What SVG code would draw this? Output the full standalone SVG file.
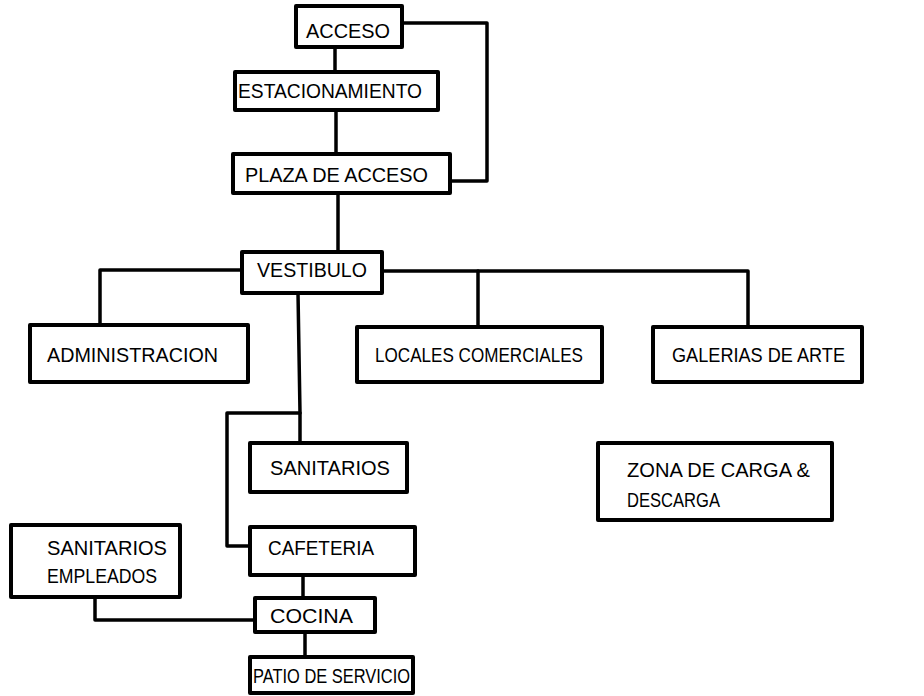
<svg xmlns="http://www.w3.org/2000/svg" width="924" height="696" viewBox="0 0 924 696">
<style>
.box{fill:#fff;stroke:#000;stroke-width:4;stroke-linejoin:round}
.ln{fill:none;stroke:#000;stroke-width:3.5;stroke-linejoin:round;stroke-linecap:round}
text{font-family:"Liberation Sans",Arial,sans-serif;font-size:20px;fill:#000}
</style>
<rect width="924" height="696" fill="#fff"/>
<g id="connectors">
<path class="ln" d="M402 23 H487 V181 H450"/>
<path class="ln" d="M335 47 V72"/>
<path class="ln" d="M336 110 V154"/>
<path class="ln" d="M338 193 V252"/>
<path class="ln" d="M242 270 H100 V325"/>
<path class="ln" d="M382 271 H748 V327"/>
<path class="ln" d="M478 271 V327"/>
<path class="ln" d="M298 293 L300 413 V443"/>
<path class="ln" d="M300 413 H227 V546 H250"/>
<path class="ln" d="M303 575 V598"/>
<path class="ln" d="M95 597 V620 H255"/>
<path class="ln" d="M305 632 V657"/>
</g>
<g id="acceso"><rect class="box" x="296" y="6" width="106" height="41"/><text x="306" y="38" textLength="84" lengthAdjust="spacingAndGlyphs">ACCESO</text></g>
<g id="estacionamiento"><rect class="box" x="235" y="72" width="203" height="38"/><text x="238" y="98" textLength="184" lengthAdjust="spacingAndGlyphs">ESTACIONAMIENTO</text></g>
<g id="plaza"><rect class="box" x="233" y="154" width="217" height="39"/><text x="245" y="182" textLength="183" lengthAdjust="spacingAndGlyphs">PLAZA DE ACCESO</text></g>
<g id="vestibulo"><rect class="box" x="242" y="252" width="140" height="41"/><text x="257" y="277" textLength="110" lengthAdjust="spacingAndGlyphs">VESTIBULO</text></g>
<g id="administracion"><rect class="box" x="30" y="325" width="218" height="57"/><text x="47" y="362" textLength="171" lengthAdjust="spacingAndGlyphs">ADMINISTRACION</text></g>
<g id="locales"><rect class="box" x="357" y="327" width="245" height="55"/><text x="375" y="362" textLength="208" lengthAdjust="spacingAndGlyphs">LOCALES COMERCIALES</text></g>
<g id="galerias"><rect class="box" x="653" y="327" width="209" height="55"/><text x="672" y="362" textLength="173" lengthAdjust="spacingAndGlyphs">GALERIAS DE ARTE</text></g>
<g id="sanitarios"><rect class="box" x="250" y="443" width="157" height="49"/><text x="270" y="475" textLength="120" lengthAdjust="spacingAndGlyphs">SANITARIOS</text></g>
<g id="zona"><rect class="box" x="598" y="443" width="234" height="77"/><text x="627" y="477" textLength="183" lengthAdjust="spacingAndGlyphs">ZONA DE CARGA &amp;</text><text x="627" y="507" textLength="93" lengthAdjust="spacingAndGlyphs">DESCARGA</text></g>
<g id="cafeteria"><rect class="box" x="250" y="527" width="165" height="48"/><text x="268" y="555" textLength="106" lengthAdjust="spacingAndGlyphs">CAFETERIA</text></g>
<g id="sanitarios-empleados"><rect class="box" x="11" y="525" width="169" height="72"/><text x="47" y="555" textLength="120" lengthAdjust="spacingAndGlyphs">SANITARIOS</text><text x="47" y="583" textLength="110" lengthAdjust="spacingAndGlyphs">EMPLEADOS</text></g>
<g id="cocina"><rect class="box" x="255" y="598" width="120" height="34"/><text x="270" y="623" font-size="15" textLength="83" lengthAdjust="spacingAndGlyphs">COCINA</text></g>
<g id="patio"><rect class="box" x="250" y="657" width="163" height="36"/><text x="253" y="683" textLength="157" lengthAdjust="spacingAndGlyphs">PATIO DE SERVICIO</text></g>
</svg>
